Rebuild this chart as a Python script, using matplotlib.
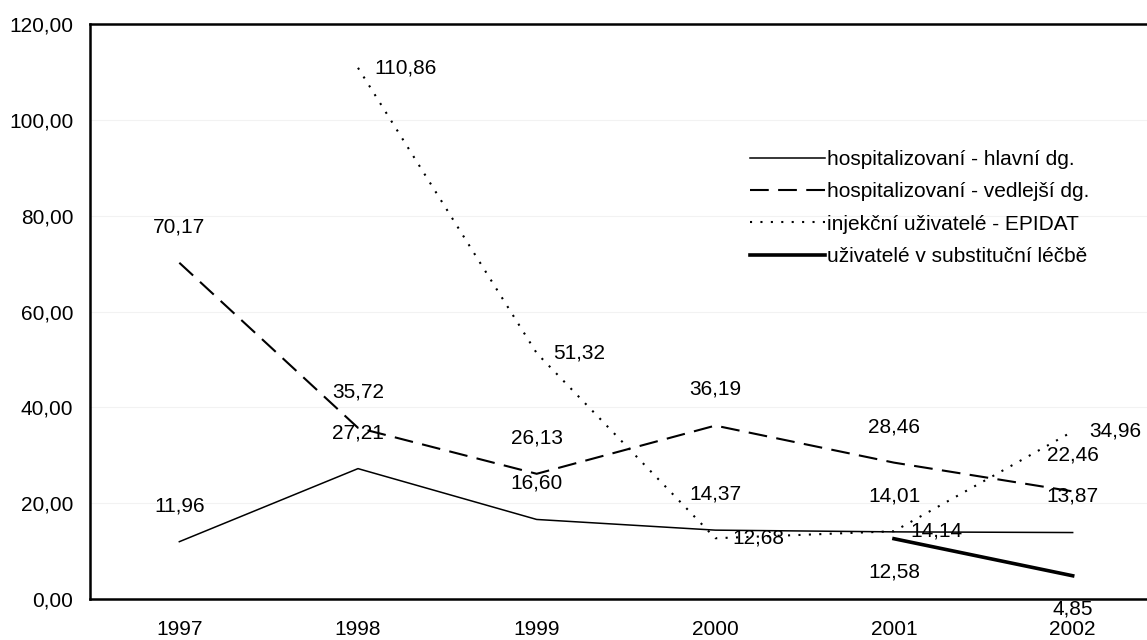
import numpy as np
import matplotlib
matplotlib.use("Agg")
import matplotlib.pyplot as plt
from matplotlib.ticker import FuncFormatter

plt.rcParams['font.family'] = ['Liberation Sans', 'DejaVu Sans']

roky = ['1997', '1998', '1999', '2000', '2001', '2002']
hlavni = [11.96, 27.21, 16.60, 14.37, 14.01, 13.87]
vedlejsi = [70.17, 35.72, 26.13, 36.19, 28.46, 22.46]
epidat = [np.nan, 110.86, 51.32, 12.68, 14.14, 34.96]
substituce = [np.nan, np.nan, np.nan, np.nan, 12.58, 4.85]

jmena = ['hospitalizovaní - hlavní dg.', 'hospitalizovaní - vedlejší dg.',
         'injekční uživatelé - EPIDAT', 'uživatelé v substituční léčbě']

def carka(v):
    return ('%.2f' % v).replace('.', ',')

fig = plt.figure(figsize=(11.47, 6.4), dpi=100)
ax = fig.add_axes([90/1147, 41/640, (1162-90)/1147, 575/640])
x = np.arange(len(roky))

ax.plot(x, hlavni, color='black', lw=1.1, label=jmena[0])
ax.plot(x, vedlejsi, color='black', lw=1.5, linestyle=(0, (9, 4.5)), label=jmena[1])
ax.plot(x, epidat, color='black', lw=1.5, linestyle=(0, (1, 4)), label=jmena[2])
ax.plot(x, substituce, color='black', lw=2.6, label=jmena[3])

# popisky hodnot
for serie in (hlavni, vedlejsi):
    for i, v in enumerate(serie):
        ax.annotate(carka(v), (i, v), xytext=(0, 26), textcoords='offset points',
                    ha='center', va='center', fontsize=15)
for i, v in enumerate(epidat):
    if not np.isnan(v):
        ax.annotate(carka(v), (i, v), xytext=(12, 0), textcoords='offset points',
                    ha='left', va='center', fontsize=15)
for i, v in enumerate(substituce):
    if not np.isnan(v):
        ax.annotate(carka(v), (i, v), xytext=(0, -24), textcoords='offset points',
                    ha='center', va='center', fontsize=15)

ax.set_xlim(-0.5, 5.5)
ax.set_ylim(0, 120)
ax.set_yticks(np.arange(0, 121, 20))
ax.yaxis.set_major_formatter(FuncFormatter(lambda v, p: carka(v)))
ax.set_xticks(x)
ax.set_xticklabels(roky)
ax.tick_params(length=0, labelsize=15)
ax.tick_params(axis='y', pad=12)
ax.tick_params(axis='x', pad=15)
ax.grid(axis='y', color='#f2f2f2', lw=0.8)
ax.set_axisbelow(True)
for s in ax.spines.values():
    s.set_linewidth(1.8)

fig.legend(loc='upper left', bbox_to_anchor=(750/1147, 1 - 150/640), frameon=False,
           fontsize=15, handlelength=3.6, handletextpad=0.1, labelspacing=0.64,
           borderpad=0, borderaxespad=0)

plt.savefig('out.png', dpi=100)
